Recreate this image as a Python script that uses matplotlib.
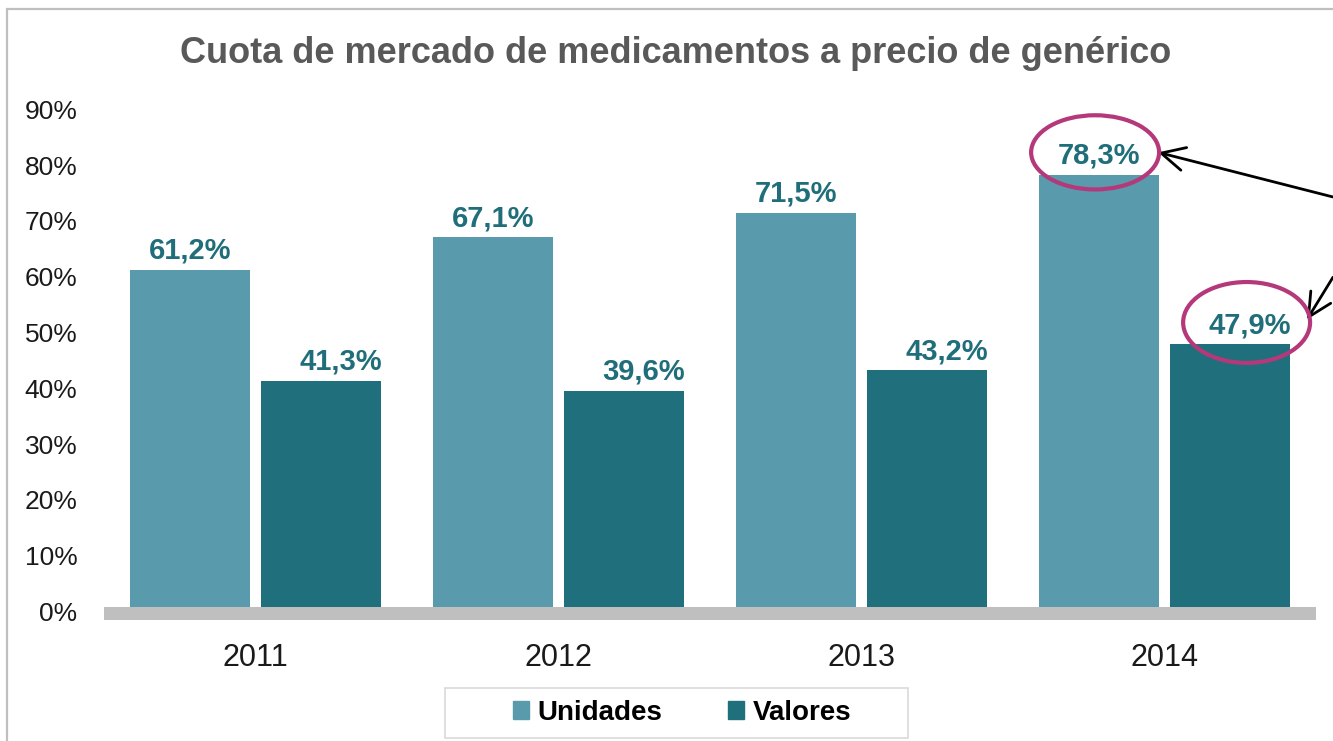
import matplotlib
matplotlib.use('Agg')
import matplotlib.pyplot as plt
from matplotlib.patches import Ellipse, Rectangle, Patch
import numpy as np

# ---- data ----
years = ['2011', '2012', '2013', '2014']
unidades = [61.2, 67.1, 71.5, 78.3]
valores = [41.3, 39.6, 43.2, 47.9]
unidades_labels = ['61,2%', '67,1%', '71,5%', '78,3%']
valores_labels = ['41,3%', '39,6%', '43,2%', '47,9%']
yticks = [0, 10, 20, 30, 40, 50, 60, 70, 80, 90]
ytick_labels = ['0%', '10%', '20%', '30%', '40%', '50%', '60%', '70%', '80%', '90%']
series_names = ['Unidades', 'Valores']
title = 'Cuota de mercado de medicamentos a precio de genérico'

# ---- style ----
plt.rcParams['font.family'] = ['Liberation Sans', 'DejaVu Sans']
c_uni = '#599BAC'
c_val = '#1F707C'
c_lab = '#1F6E7A'
c_ell = '#B5387A'

W, H = 1333, 741
fig = plt.figure(figsize=(W / 100, H / 100), dpi=100)
ax = fig.add_axes([104 / W, 1 - 611.4 / H, (1316 - 104) / W, (611.4 - 109.4) / H])

x = np.arange(len(years))
bw = 0.396
off = 0.216
ax.bar(x - off, unidades, bw, color=c_uni, zorder=2)
ax.bar(x + off, valores, bw, color=c_val, zorder=2)

for xi, v, lab in zip(x, unidades, unidades_labels):
    ax.annotate(lab, (xi - off, v), xytext=(0, 8), textcoords='offset points',
                ha='center', va='baseline', fontsize=21, fontweight='bold', color=c_lab)
for xi, v, lab in zip(x, valores, valores_labels):
    ax.annotate(lab, (xi + off, v), xytext=(14, 8), textcoords='offset points',
                ha='center', va='baseline', fontsize=21, fontweight='bold', color=c_lab)

ax.set_xlim(-0.5, 3.5)
ax.set_ylim(0, 90)
ax.set_yticks(yticks)
ax.set_yticklabels(ytick_labels)
ax.set_xticks(x)
ax.set_xticklabels(years)
ax.tick_params(axis='y', length=0, pad=19, labelsize=19, labelcolor='#1a1a1a')
ax.tick_params(axis='x', length=0, pad=23, labelsize=22, labelcolor='#1a1a1a')
for s in ax.spines.values():
    s.set_visible(False)

# thick gray baseline
ax.axhspan(-1.55, 0.75, color='#BFBFBF', zorder=4, clip_on=False, lw=0)

# ellipses highlighting 2014 labels
ax.add_patch(Ellipse((2.771, 82.3), 0.4224, 13.3, fill=False, ec=c_ell, lw=3,
                     clip_on=False, zorder=5))
ax.add_patch(Ellipse((3.271, 51.8), 0.419, 14.5, fill=False, ec=c_ell, lw=3,
                     clip_on=False, zorder=5))

# arrows
ax.annotate('', xy=(2.979, 82.3), xytext=(3.556, 74.3),
            arrowprops=dict(arrowstyle='->', color='black', lw=2, mutation_scale=42,
                            shrinkA=0, shrinkB=0), annotation_clip=False)
ax.annotate('', xy=(3.470, 52.3), xytext=(3.556, 59.9),
            arrowprops=dict(arrowstyle='->', color='black', lw=2, mutation_scale=42,
                            shrinkA=0, shrinkB=0), annotation_clip=False)

# title
fig.text(676 / W, 1 - 63 / H, title, ha='center', va='baseline', fontsize=26,
         fontweight='bold', color='#595959')

# legend
handles = [Patch(color=c_uni), Patch(color=c_val)]
fig.legend(handles, series_names, loc='center', bbox_to_anchor=(682 / W, 1 - 713 / H),
           ncol=2, frameon=False, handlelength=0.6, handleheight=0.6,
           handletextpad=0.3, columnspacing=2.35,
           prop=dict(size=20, weight='bold'))
fig.patches.append(Rectangle((445 / W, 1 - 738 / H), 463 / W, 50 / H, transform=fig.transFigure,
                             fill=False, ec='#D9D9D9', lw=1.2))

# outer border
fig.patches.append(Rectangle((7 / W, -0.1), 1.2, 1 - 9 / H + 0.1, transform=fig.transFigure,
                             fill=False, ec='#BFBFBF', lw=1.6))

fig.savefig('out.png', dpi=100)
